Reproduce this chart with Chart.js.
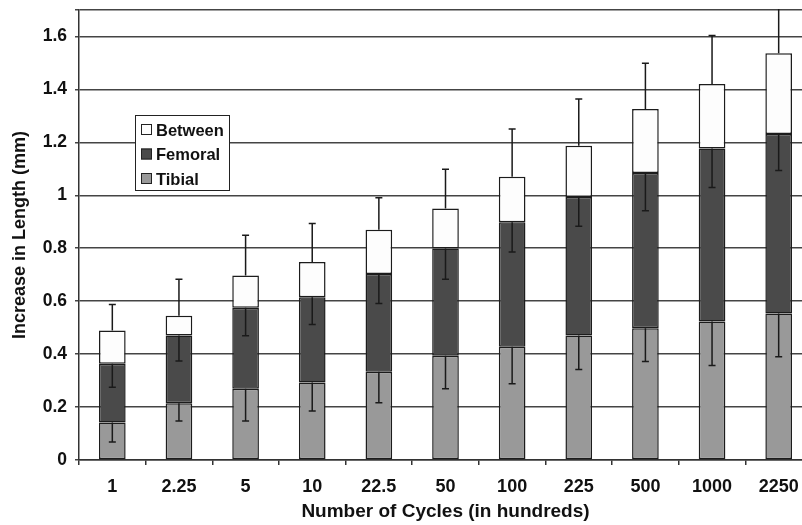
<!DOCTYPE html>
<html>
<head>
<meta charset="utf-8">
<script src="https://cdn.jsdelivr.net/npm/chart.js@4"></script>
<style>
  html, body { margin: 0; padding: 0; background: #fff; overflow: hidden; }
  #wrap { position: absolute; left: 0; top: 0; width: 812px; height: 525px; }
</style>
</head>
<body>
<div id="wrap"><canvas id="lengthChart" width="812" height="525"></canvas></div>
<script>
// categories (number of cycles, in hundreds)
const cycles = ['1', '2.25', '5', '10', '22.5', '50', '100', '225', '500', '1000', '2250'];

// stacked segment heights (mm)
const tibial  = [0.142, 0.214, 0.269, 0.293, 0.333, 0.394, 0.428, 0.470, 0.498, 0.523, 0.553];
const femoral = [0.222, 0.256, 0.306, 0.322, 0.370, 0.405, 0.470, 0.524, 0.586, 0.654, 0.679];
const between = [0.125, 0.075, 0.122, 0.133, 0.167, 0.151, 0.172, 0.193, 0.242, 0.243, 0.305];

// error bar sizes (mm): tibial and femoral drawn downward, between drawn upward
const tibialErr  = [0.074, 0.067, 0.122, 0.108, 0.117, 0.125, 0.140, 0.128, 0.126, 0.166, 0.163];
const femoralErr = [0.089, 0.096, 0.106, 0.103, 0.112, 0.116, 0.112, 0.111, 0.142, 0.148, 0.138];
const betweenErr = [0.098, 0.138, 0.152, 0.145, 0.121, 0.148, 0.180, 0.177, 0.173, 0.184, 0.220];

const yTicks = [0, 0.2, 0.4, 0.6, 0.8, 1, 1.2, 1.4, 1.6];

const FONT = "'Liberation Sans', Arial, sans-serif";

// draws the error bars from the top of each stacked segment
const errorBars = {
    id: 'errorBars',
    afterDatasetsDraw(chart) {
        const ctx = chart.ctx;
        const yScale = chart.scales.y;
        const area = chart.chartArea;
        ctx.save();
        ctx.beginPath();
        ctx.rect(area.left, area.top - 1, area.right - area.left, area.bottom - area.top + 2);
        ctx.clip();
        ctx.strokeStyle = '#1a1a1a';
        ctx.lineWidth = 1.5;
        chart.data.datasets.forEach((ds, di) => {
            const meta = chart.getDatasetMeta(di);
            meta.data.forEach((bar, i) => {
                // cumulative value at top of this segment
                let top = 0;
                for (let k = 0; k <= di; k++) top += chart.data.datasets[k].data[i];
                const end = top + ds.errDir * ds.errors[i];
                const x = bar.x;
                const y0 = yScale.getPixelForValue(top);
                const y1 = yScale.getPixelForValue(end);
                ctx.beginPath();
                ctx.moveTo(x, y0);
                ctx.lineTo(x, y1);
                ctx.moveTo(x - 3.5, y1);
                ctx.lineTo(x + 3.5, y1);
                ctx.stroke();
            });
        });
        ctx.restore();
    }
};

// boxed legend inside the plot area, listed top-down as stacked
const boxLegend = {
    id: 'boxLegend',
    afterDraw(chart) {
        const ctx = chart.ctx;
        const a = chart.chartArea;
        const x = a.left + 56, y = a.top + 105, w = 94, h = 75;
        ctx.save();
        ctx.fillStyle = '#fff';
        ctx.fillRect(x, y, w, h);
        ctx.strokeStyle = '#222';
        ctx.lineWidth = 1;
        ctx.strokeRect(x + 0.5, y + 0.5, w, h);
        const items = chart.data.datasets.slice().reverse();
        ctx.font = 'bold 16.5px ' + FONT;
        ctx.textBaseline = 'middle';
        items.forEach((ds, i) => {
            const cy = y + 15 + i * 24.5;
            ctx.fillStyle = ds.backgroundColor;
            ctx.fillRect(x + 6, cy - 6, 11, 11);
            ctx.strokeStyle = '#222';
            ctx.strokeRect(x + 6.5, cy - 5.5, 10, 10);
            ctx.fillStyle = '#111';
            ctx.fillText(ds.label, x + 21, cy + 1);
        });
        ctx.restore();
    }
};

const common = {
    borderColor: '#1c1c1c',
    borderWidth: 1.5,
    borderSkipped: false,
    barPercentage: 0.8,
    categoryPercentage: 0.5
};

new Chart(document.getElementById('lengthChart'), {
    type: 'bar',
    data: {
        labels: cycles,
        datasets: [
            Object.assign({ label: 'Tibial', data: tibial, backgroundColor: '#999999', errors: tibialErr, errDir: -1 }, common),
            Object.assign({ label: 'Femoral', data: femoral, backgroundColor: '#4a4a4a', errors: femoralErr, errDir: -1 }, common),
            Object.assign({ label: 'Between', data: between, backgroundColor: '#fdfdfd', errors: betweenErr, errDir: 1 }, common)
        ]
    },
    plugins: [errorBars, boxLegend],
    options: {
        responsive: false,
        animation: false,
        devicePixelRatio: 1,
        layout: { padding: { top: 10, right: 0, left: 0, bottom: 0 } },
        plugins: {
            legend: { display: false },
            tooltip: { enabled: false }
        },
        scales: {
            x: {
                stacked: true,
                afterFit(scale) {
                    scale.height = 65;
                    scale.paddingLeft = 0;
                    scale.paddingRight = 0;
                },
                grid: {
                    offset: true,
                    drawOnChartArea: false,
                    color: '#333',
                    lineWidth: 1.5,
                    tickLength: 5
                },
                border: { color: '#333', width: 1.5 },
                ticks: {
                    color: '#111',
                    padding: 11,
                    maxRotation: 0,
                    font: { family: FONT, size: 18, weight: 'bold' }
                },
                title: {
                    display: true,
                    text: 'Number of Cycles (in hundreds)',
                    color: '#111',
                    padding: { top: 0, bottom: 1.5 },
                    font: { family: FONT, size: 19, weight: 'bold' }
                }
            },
            y: {
                stacked: true,
                min: 0,
                max: 1.7,
                afterFit(scale) {
                    scale.width = 79;
                    scale.paddingTop = 0;
                    scale.paddingBottom = 0;
                },
                afterBuildTicks(scale) {
                    scale.ticks = yTicks.concat([1.7]).map(v => ({ value: v }));
                },
                grid: {
                    color: '#444',
                    lineWidth: 1.5,
                    tickLength: 4
                },
                border: { color: '#333', width: 1.5 },
                ticks: {
                    color: '#111',
                    padding: 8,
                    font: { family: FONT, size: 17.5, weight: 'bold' },
                    callback: v => (v > 1.65 ? '' : String(Math.round(v * 10) / 10))
                },
                title: {
                    display: true,
                    text: 'Increase in Length (mm)',
                    color: '#111',
                    padding: { top: 9, bottom: 4 },
                    font: { family: FONT, size: 18, weight: 'bold' }
                }
            }
        }
    }
});
</script>
</body>
</html>
